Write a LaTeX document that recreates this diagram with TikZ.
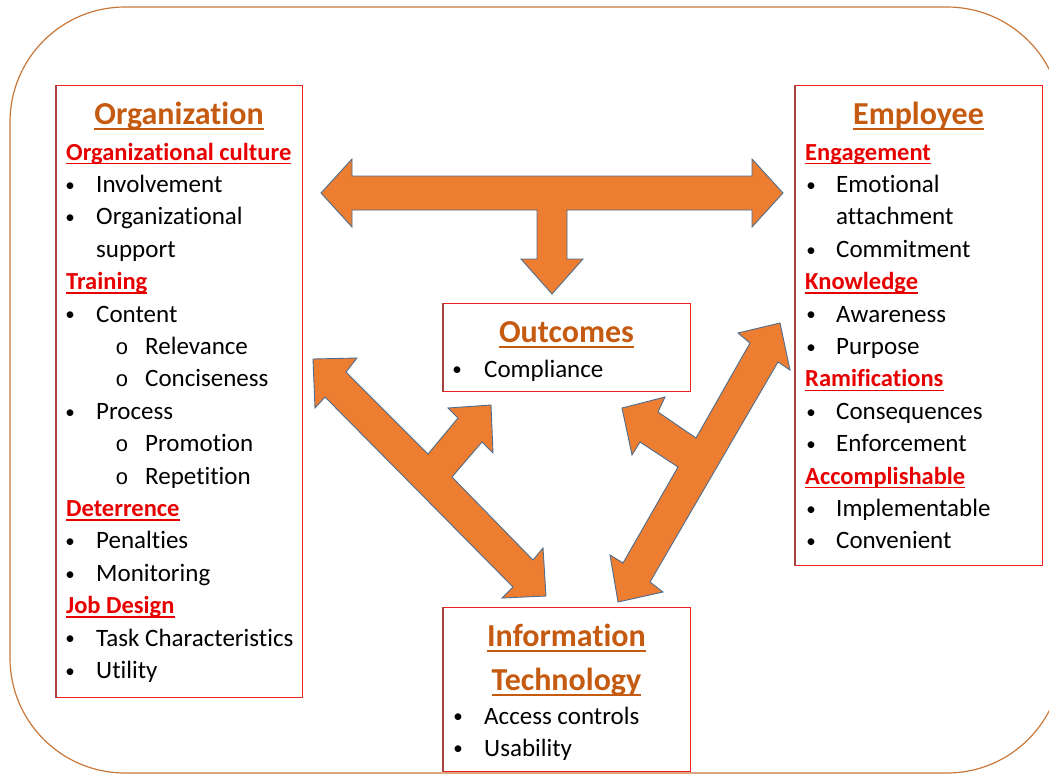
\documentclass[tikz,border=0pt]{standalone}
\usepackage{fontspec}
\setmainfont{Carlito}[Ligatures=NoCommon]
\newfontfamily\monof{Liberation Mono}
\definecolor{ttlc}{HTML}{C55A11}
\definecolor{subc}{HTML}{E80000}
\definecolor{arrfill}{HTML}{ED7D31}
\definecolor{arrline}{HTML}{4F6E8F}
\definecolor{boxred}{HTML}{F02020}
\definecolor{boxdark}{HTML}{A8423F}
\definecolor{outerc}{HTML}{C8783A}
\tikzset{
 arrowshape/.style={fill=arrfill, draw=arrline, line width=0.9pt, line join=miter},
 box/.style={draw=boxred, line width=1.2pt, inner sep=0pt, fill=white, anchor=north west},
 tx/.style={anchor=base west, inner sep=0pt, font=\fontsize{25}{29}\selectfont},
 bul/.style={anchor=base, inner sep=0pt, font=\fontsize{19}{23}\selectfont, yshift=1.2pt},
 obul/.style={anchor=base, inner sep=0pt, font=\monof\fontsize{22}{26}\selectfont},
 ttl/.style={anchor=base, inner sep=0pt, font=\fontsize{32}{38}\selectfont\bfseries, text=ttlc},
 sub/.style={anchor=base west, inner sep=0pt, font=\fontsize{24.5}{29}\selectfont\bfseries, text=subc},
 ttlline/.style={draw=ttlc, line width=2pt},
 subline/.style={draw=subc, line width=1.5pt},
 outer/.style={draw=outerc, line width=1.2pt, rounded corners=115pt},
}
\newcommand\ttlhd[4]{\node[ttl] (#1) at (#2,#3) {#4};
  \draw[ttlline] ([yshift=-4.5pt]#1.base west) -- ([yshift=-4.5pt]#1.base east);}
\newcommand\subhd[4]{\node[sub] (#1) at (#2,#3) {#4};
  \draw[subline] ([yshift=-3.5pt]#1.base west) -- ([yshift=-3.5pt]#1.base east);}
\newcommand\bitem[5]{\node[bul] (#1b) at (#2,#4) {•}; \node[tx] (#1) at (#3,#4) {#5};}
\newcommand\oitem[5]{\node[obul] (#1b) at (#2,#4) {o}; \node[tx] (#1) at (#3,#4) {#5};}
\newcommand\contln[4]{\node[tx] (#1) at (#2,#3) {#4};}
\begin{document}
\begin{tikzpicture}[x=1pt,y=-1pt]
\useasboundingbox (0,0) rectangle (1049,774);
\fill[white] (0,0) rectangle (1049,774);
\draw[outer] (10,7) rectangle (1062,773);

% boxes
\node[box, minimum width=246pt, minimum height=612pt] (org) at (56,85) {};
\node[box, minimum width=247pt, minimum height=480pt] (emp) at (795,85) {};
\node[box, minimum width=247pt, minimum height=88pt] (out) at (443,303) {};
\node[box, minimum width=247pt, minimum height=164pt] (it) at (443,607) {};
\foreach \b in {org,emp,out,it}{\draw[boxdark, line width=1.2pt] (\b.north west) -- (\b.south west);}

% T arrow (Organization <-> Employee, down to Outcomes)
\draw[arrowshape] (321,193) -- (352,159) -- (352,176) -- (752,176) -- (752,159) -- (783,193)
  -- (752,227) -- (752,210) -- (567,210) -- (567,259) -- (583,259) -- (552,294)
  -- (521,259) -- (537,259) -- (537,210) -- (352,210) -- (352,227) -- cycle;

% left diagonal arrow (Organization <-> IT, branch to Outcomes)
\draw[arrowshape] (313,359) -- (357,358) -- (346,372) -- (428,454) -- (458,418) -- (448,408)
  -- (491,405) -- (493,453) -- (482,442) -- (452,477) -- (533,560) -- (543,548)
  -- (546,596) -- (502,598) -- (513,587) -- (325,397) -- (315,408) -- cycle;

% right diagonal arrow (Employee <-> IT, branch to Outcomes)
\draw[arrowshape] (780,323) -- (738,333) -- (750,343) -- (696,438) -- (658,412) -- (665,397)
  -- (622,408) -- (632,455) -- (640,442) -- (678,467) -- (623,563) -- (610,555)
  -- (618,602) -- (663,592) -- (650,582) -- (778,362) -- (790,370) -- cycle;

% Organization
\ttlhd{orgt}{179}{124}{Organization}
\subhd{orgc}{66}{160}{Organizational culture}
\bitem{inv}{70}{96}{192.4}{Involvement}
\bitem{osup}{70}{96}{224.8}{Organizational}
\contln{sup}{96}{257.2}{support}
\subhd{trn}{66}{289.6}{Training}
\bitem{cont}{70}{96}{322}{Content}
\oitem{rel}{122}{145}{354.4}{Relevance}
\oitem{conc}{122}{145}{386.8}{Conciseness}
\bitem{proc}{70}{96}{419.2}{Process}
\oitem{prom}{122}{145}{451.6}{Promotion}
\oitem{rep}{122}{145}{484}{Repetition}
\subhd{det}{66}{516.4}{Deterrence}
\bitem{pen}{70}{96}{548.8}{Penalties}
\bitem{mon}{70}{96}{581.2}{Monitoring}
\subhd{job}{66}{613.6}{Job Design}
\bitem{task}{70}{96}{646}{Task Characteristics}
\bitem{util}{70}{96}{678.4}{Utility}

% Employee
\ttlhd{empt}{918.5}{124}{Employee}
\subhd{eng}{805}{160}{Engagement}
\bitem{emo}{811}{836}{192.4}{Emotional}
\contln{att}{836}{224.8}{attachment}
\bitem{com}{811}{836}{257.2}{Commitment}
\subhd{knw}{805}{289.6}{Knowledge}
\bitem{awa}{811}{836}{322}{Awareness}
\bitem{pur}{811}{836}{354.4}{Purpose}
\subhd{ram}{805}{386.8}{Ramifications}
\bitem{cons}{811}{836}{419.2}{Consequences}
\bitem{enf}{811}{836}{451.6}{Enforcement}
\subhd{acc}{805}{484}{Accomplishable}
\bitem{imp}{811}{836}{516.4}{Implementable}
\bitem{conv}{811}{836}{548.8}{Convenient}

% Outcomes
\ttlhd{outt}{566.5}{342}{Outcomes}
\bitem{compl}{457}{484}{377}{Compliance}

% Information Technology
\ttlhd{itt1}{566.5}{646}{Information}
\ttlhd{itt2}{566.5}{690}{Technology}
\bitem{acs}{458}{484}{724}{Access controls}
\bitem{usa}{458}{484}{756}{Usability}
\end{tikzpicture}
\end{document}
